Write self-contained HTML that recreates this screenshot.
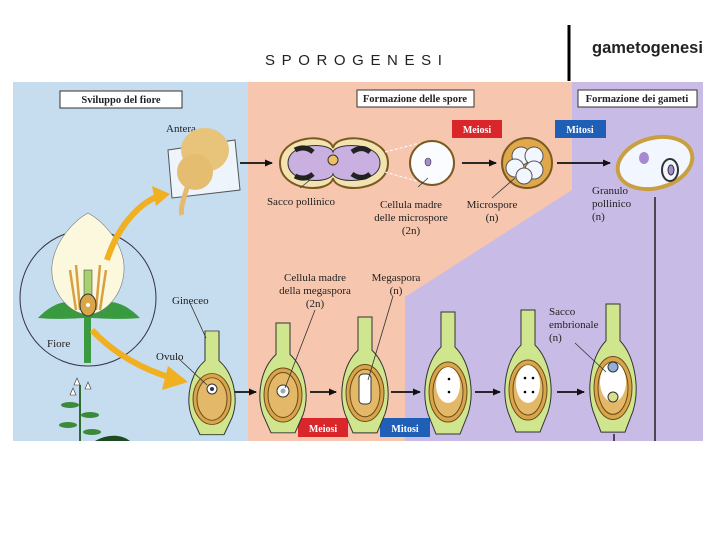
<!DOCTYPE html>
<html><head><meta charset="utf-8"><style>
html,body{margin:0;padding:0;background:#fff;width:720px;height:540px;overflow:hidden}
svg{display:block}
text{font-family:"Liberation Serif",serif;font-size:11px;fill:#222}
.h{font-weight:bold;font-size:10.5px}
.w{font-family:"Liberation Serif",serif;font-weight:bold;font-size:10px;fill:#fff}
</style></head><body>
<svg width="720" height="540" viewBox="0 0 720 540">
<defs>
<marker id="a" markerWidth="8" markerHeight="8" refX="7" refY="4" orient="auto" markerUnits="userSpaceOnUse"><path d="M0,0.5 L8,4 L0,7.5Z" fill="#111"/></marker>
<g id="ov">
<path d="M-7,-80 L7,-80 L7,-45 C22,-30 27,0 20,22 L12,42 L-12,42 L-20,22 C-27,0 -22,-30 -7,-45Z" fill="#cfe58e" stroke="#333" stroke-width="1"/>
<ellipse cx="0" cy="0" rx="19" ry="30" fill="#d9a54a" stroke="#6b4a1a"/>
<ellipse cx="0" cy="0" rx="15" ry="25" fill="#e3b869" stroke="#6b4a1a"/>
</g>
</defs>
<text x="265" y="65" style="font-family:'Liberation Sans',sans-serif;font-size:15px;letter-spacing:6.6px">SPOROGENESI</text>
<line x1="569" y1="25" x2="569" y2="81" stroke="#000" stroke-width="3"/>
<text x="592" y="53" style="font-family:'Liberation Sans',sans-serif;font-size:16.5px;font-weight:bold">gametogenesi</text>
<rect x="13" y="82" width="235" height="359" fill="#c6dcef"/>
<rect x="248" y="82" width="455" height="359" fill="#c8bce6"/>
<path d="M248,82 L572,82 L572,190 L405,297 L405,441 L248,441Z" fill="#f6c6ae"/>
<rect x="60" y="91" width="122" height="17" fill="#fff" stroke="#333"/>
<text x="121" y="103" text-anchor="middle" class="h">Sviluppo del fiore</text>
<rect x="357" y="90" width="117" height="17" fill="#fff" stroke="#333"/>
<text x="415" y="102" text-anchor="middle" class="h">Formazione delle spore</text>
<rect x="578" y="90" width="119" height="17" fill="#fff" stroke="#333"/>
<text x="637" y="102" text-anchor="middle" class="h">Formazione dei gameti</text>
<rect x="452" y="120" width="50" height="18" fill="#d8262b"/><text x="477" y="133" text-anchor="middle" class="w">Meiosi</text>
<rect x="555" y="120" width="51" height="18" fill="#1f5fb5"/><text x="580" y="133" text-anchor="middle" class="w">Mitosi</text>
<rect x="298" y="418" width="50" height="19" fill="#d8262b"/><text x="323" y="432" text-anchor="middle" class="w">Meiosi</text>
<rect x="380" y="418" width="50" height="19" fill="#1f5fb5"/><text x="405" y="432" text-anchor="middle" class="w">Mitosi</text>
<path d="M280,163 C280,135 330,132 333,148 C336,132 388,135 388,163 C388,192 336,194 333,178 C330,194 280,192 280,163Z" fill="#f3e3b0" stroke="#7a5a20" stroke-width="2"/>
<path d="M288,163 C288,142 330,142 333,152 C336,142 380,142 380,163 C380,184 336,184 333,174 C330,184 288,184 288,163Z" fill="#c9b0e0" stroke="#333"/>
<path d="M295,150 q10,-5 18,2 M295,176 q10,5 18,-2 M352,152 q10,-7 18,0 M352,174 q10,7 18,0" stroke="#222" stroke-width="5" fill="none"/>
<circle cx="333" cy="160" r="5" fill="#f0c060" stroke="#333"/>
<line x1="385" y1="152" x2="420" y2="143" stroke="#fff" stroke-dasharray="3,2"/>
<line x1="385" y1="172" x2="420" y2="182" stroke="#fff" stroke-dasharray="3,2"/>
<circle cx="432" cy="163" r="22" fill="#fafcff" stroke="#7a5a20" stroke-width="2"/>
<ellipse cx="428" cy="162" rx="3" ry="4" fill="#a58ad0" stroke="#333" stroke-width=".6"/>
<circle cx="527" cy="163" r="25" fill="#e0a84a" stroke="#7a5a20" stroke-width="2"/>
<circle cx="521" cy="156" r="9" fill="#f2f6ff" stroke="#555"/><circle cx="534" cy="156" r="9" fill="#f2f6ff" stroke="#555"/>
<circle cx="515" cy="168" r="9" fill="#f2f6ff" stroke="#555"/><circle cx="534" cy="170" r="9" fill="#f2f6ff" stroke="#555"/><circle cx="524" cy="176" r="8" fill="#f2f6ff" stroke="#555"/>
<ellipse cx="655" cy="163" rx="38" ry="25" transform="rotate(-15 655 163)" fill="#f2f6ff" stroke="#c8a040" stroke-width="4"/>
<ellipse cx="644" cy="158" rx="5" ry="6" fill="#a58ad0"/>
<ellipse cx="670" cy="170" rx="8" ry="11" fill="none" stroke="#333" stroke-width="2"/><ellipse cx="671" cy="170" rx="3" ry="5" fill="#a58ad0" stroke="#333"/>
<g stroke="#111" stroke-width="1.8" marker-end="url(#a)">
<line x1="240" y1="163" x2="272" y2="163"/><line x1="462" y1="163" x2="496" y2="163"/><line x1="557" y1="163" x2="610" y2="163"/>
<line x1="232" y1="392" x2="256" y2="392"/><line x1="310" y1="392" x2="336" y2="392"/><line x1="391" y1="392" x2="420" y2="392"/><line x1="475" y1="392" x2="500" y2="392"/><line x1="557" y1="392" x2="584" y2="392"/>
</g>
<line x1="655" y1="197" x2="655" y2="441" stroke="#222" stroke-width="1.5"/>
<line x1="614" y1="434" x2="614" y2="441" stroke="#222" stroke-width="1.5"/>
<use href="#ov" transform="translate(212,399) scale(1,0.85)"/>
<use href="#ov" transform="translate(283,395) scale(1,0.9)"/>
<use href="#ov" transform="translate(365,393) scale(1,0.95)"/>
<use href="#ov" transform="translate(448,392)"/>
<use href="#ov" transform="translate(528,390)"/>
<use href="#ov" transform="translate(613,388) scale(1,1.05)"/>
<circle cx="212" cy="389" r="5" fill="#fff" stroke="#333"/><circle cx="212" cy="389" r="2" fill="#334"/>
<circle cx="283" cy="391" r="6" fill="#fff" stroke="#333"/><circle cx="283" cy="391" r="2.5" fill="#9ab"/>
<rect x="359" y="374" width="12" height="30" rx="4" fill="#fff" stroke="#333"/>
<ellipse cx="448" cy="385" rx="12" ry="18" fill="#fff"/><circle cx="449" cy="379" r="1.3"/><circle cx="449" cy="392" r="1.3"/>
<ellipse cx="528" cy="384" rx="12" ry="19" fill="#fff"/><circle cx="525" cy="378" r="1.3"/><circle cx="533" cy="378" r="1.3"/><circle cx="525" cy="392" r="1.3"/><circle cx="533" cy="392" r="1.3"/>
<ellipse cx="613" cy="382" rx="13" ry="20" fill="#fff"/><circle cx="613" cy="367" r="5" fill="#8fb0d8" stroke="#333"/><circle cx="613" cy="397" r="5" fill="#d8e08a" stroke="#333"/>
<text x="301" y="205" text-anchor="middle">Sacco pollinico</text>
<text x="411" y="208" text-anchor="middle">Cellula madre</text><text x="411" y="221" text-anchor="middle">delle microspore</text><text x="411" y="234" text-anchor="middle">(2n)</text>
<text x="492" y="208" text-anchor="middle">Microspore</text><text x="492" y="221" text-anchor="middle">(n)</text>
<text x="592" y="194">Granulo</text><text x="592" y="207">pollinico</text><text x="592" y="220">(n)</text>
<text x="315" y="281" text-anchor="middle">Cellula madre</text><text x="315" y="294" text-anchor="middle">della megaspora</text><text x="315" y="307" text-anchor="middle">(2n)</text>
<text x="396" y="281" text-anchor="middle">Megaspora</text><text x="396" y="294" text-anchor="middle">(n)</text>
<text x="549" y="315">Sacco</text><text x="549" y="328">embrionale</text><text x="549" y="341">(n)</text>
<g stroke="#333" stroke-width=".8"><line x1="300" y1="188" x2="310" y2="180"/><line x1="418" y1="187" x2="428" y2="178"/><line x1="492" y1="198" x2="515" y2="178"/><line x1="315" y1="310" x2="285" y2="388"/><line x1="393" y1="296" x2="368" y2="380"/><line x1="575" y1="343" x2="606" y2="372"/><line x1="190" y1="303" x2="206" y2="338"/><line x1="178" y1="358" x2="207" y2="385"/></g>
<text x="166" y="132">Antera</text>
<text x="172" y="304">Gineceo</text>
<text x="156" y="360">Ovulo</text>
<text x="47" y="347">Fiore</text>
<circle cx="88" cy="298" r="68" fill="none" stroke="#334" stroke-width="1"/>
<path d="M38,318 C60,295 80,300 88,312 C96,300 118,295 140,318 C115,320 100,318 88,318 C76,318 60,320 38,318Z" fill="#3a9a40"/>
<rect x="84" y="315" width="7" height="48" fill="#3a9a40"/>
<path d="M52,265 C55,240 75,220 88,213 C101,220 122,240 124,265 C125,290 110,312 88,315 C66,312 50,290 52,265Z" fill="#fbf8dd" stroke="#777" stroke-width=".6"/>
<g stroke="#d8a040" stroke-width="2.5" fill="none"><path d="M70,270 L76,310"/><path d="M76,265 L80,310"/><path d="M106,270 L100,310"/><path d="M100,265 L96,310"/></g>
<rect x="84" y="270" width="8" height="30" fill="#a8d070" stroke="#333" stroke-width=".5"/>
<ellipse cx="88" cy="305" rx="8" ry="11" fill="#d9a54a" stroke="#333"/><circle cx="88" cy="305" r="2" fill="#fff"/>
<path d="M168,150 L235,140 L240,190 L172,198Z" fill="#eef4fb" stroke="#555"/>
<ellipse cx="205" cy="150" rx="24" ry="22" fill="#e8c47a"/><ellipse cx="195" cy="172" rx="18" ry="18" fill="#e4bd70"/>
<path d="M188,185 C183,200 180,210 182,215" stroke="#e2bb70" stroke-width="5" fill="none"/>
<path d="M107,260 C120,220 145,200 160,196" stroke="#f0b020" stroke-width="6" fill="none"/><path d="M152,186 L170,194 L156,206Z" fill="#f0b020"/>
<path d="M92,330 C115,355 145,370 172,378" stroke="#f0b020" stroke-width="6" fill="none"/><path d="M168,366 L188,382 L162,390Z" fill="#f0b020"/>
<path d="M80,385 L80,441" stroke="#2c6a30" stroke-width="2"/>
<g fill="#3a8a3a"><ellipse cx="70" cy="405" rx="9" ry="3"/><ellipse cx="90" cy="415" rx="9" ry="3"/><ellipse cx="68" cy="425" rx="9" ry="3"/><ellipse cx="92" cy="432" rx="9" ry="3"/><path d="M95,441 C105,435 120,433 130,441Z" fill="#1d4a20"/></g>
<g fill="#fff" stroke="#333" stroke-width=".6"><path d="M74,385 l3,-7 l3,7z"/><path d="M85,389 l3,-7 l3,7z"/><path d="M70,395 l3,-7 l3,7z"/></g>
</svg>
</body></html>
